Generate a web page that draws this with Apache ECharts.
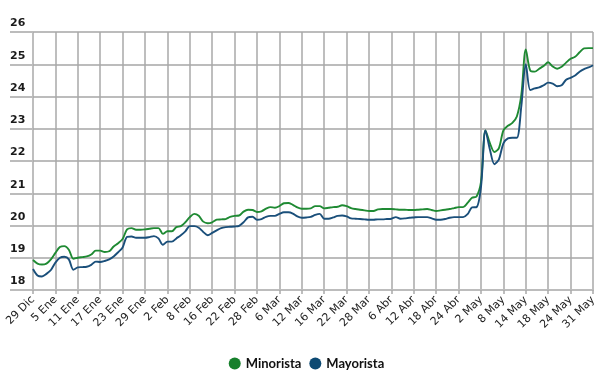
<!DOCTYPE html>
<html>
<head>
<meta charset="utf-8">
<script src="https://cdn.jsdelivr.net/npm/echarts@6/dist/echarts.min.js"></script>
<style>html,body{margin:0;padding:0;background:#fff;}#chart{width:613px;height:383px;}</style>
</head>
<body>
<div id="chart"></div>
<script>
var tickLabels = ["29 Dic","5 Ene","11 Ene","17 Ene","23 Ene","29 Ene","2 Feb","8 Feb","16 Feb","22 Feb","28 Feb","6 Mar","12 Mar","16 Mar","22 Mar","28 Mar","6 Abr","12 Abr","18 Abr","24 Abr","2 May","8 May","14 May","18 May","24 May","31 May"];
var pointsPerLabel = 5;
var minorista = [18.93,18.82,18.79,18.82,18.95,19.15,19.33,19.36,19.25,18.97,19.0,19.02,19.04,19.1,19.22,19.22,19.18,19.2,19.35,19.45,19.58,19.88,19.92,19.87,19.87,19.88,19.9,19.92,19.92,19.74,19.82,19.82,19.95,19.98,20.1,20.26,20.36,20.3,20.12,20.07,20.1,20.18,20.19,20.2,20.27,20.3,20.31,20.43,20.49,20.48,20.42,20.44,20.52,20.57,20.55,20.6,20.69,20.7,20.64,20.56,20.52,20.52,20.53,20.6,20.6,20.53,20.55,20.57,20.58,20.63,20.6,20.54,20.51,20.49,20.47,20.45,20.45,20.5,20.51,20.51,20.51,20.5,20.49,20.49,20.48,20.48,20.49,20.5,20.51,20.48,20.45,20.47,20.49,20.51,20.54,20.57,20.57,20.7,20.86,20.9,21.35,22.95,22.55,22.28,22.4,22.95,23.09,23.18,23.38,24.05,25.46,24.8,24.77,24.86,24.95,25.06,24.93,24.86,24.92,25.05,25.17,25.23,25.37,25.49,25.5,25.5];
var mayorista = [18.65,18.45,18.42,18.5,18.62,18.85,19.0,19.03,18.95,18.63,18.7,18.71,18.72,18.78,18.88,18.87,18.9,18.95,19.04,19.17,19.32,19.65,19.66,19.62,19.62,19.62,19.64,19.67,19.6,19.4,19.5,19.5,19.6,19.7,19.82,19.98,19.98,19.93,19.8,19.7,19.77,19.85,19.92,19.95,19.96,19.97,19.99,20.1,20.25,20.27,20.18,20.2,20.27,20.3,20.3,20.36,20.41,20.41,20.37,20.28,20.24,20.25,20.27,20.33,20.36,20.21,20.21,20.25,20.3,20.31,20.28,20.22,20.21,20.2,20.19,20.18,20.18,20.19,20.19,20.2,20.21,20.26,20.21,20.22,20.24,20.25,20.26,20.26,20.26,20.22,20.18,20.18,20.2,20.24,20.26,20.26,20.26,20.35,20.56,20.57,21.2,22.95,22.35,21.9,22.05,22.55,22.7,22.72,22.72,23.7,25.0,24.2,24.25,24.28,24.35,24.43,24.4,24.32,24.35,24.52,24.58,24.65,24.77,24.85,24.9,24.97];

function pairs(arr){ return arr.map(function(v,i){ return [i, v]; }); }

var chart = echarts.init(document.getElementById('chart'), null, {renderer:'canvas'});
var hColor = '#bcbcbc';
var vColor = '#a9a9a9';
chart.setOption({
  animation: false,
  backgroundColor: '#ffffff',
  grid: {left: 33, right: 20, top: 32, bottom: 93, containLabel: false},
  xAxis: {
    type: 'value', min: 0, max: (tickLabels.length - 1) * pointsPerLabel, interval: pointsPerLabel,
    axisLine: {show: true, lineStyle: {color: hColor, width: 2}},
    axisTick: {show: true, length: 4, lineStyle: {color: vColor, width: 1.5}},
    splitLine: {show: true, lineStyle: {color: vColor, width: 1.5}},
    axisLabel: {
      rotate: 45, margin: 8, color: '#222', fontFamily: 'DejaVu Sans', fontSize: 11,
      formatter: function(v){ return tickLabels[Math.round(v / pointsPerLabel)] || ''; },
      showMinLabel: true, showMaxLabel: true
    }
  },
  yAxis: {
    type: 'value', min: 18, max: 26, interval: 1,
    axisLine: {show: false},
    axisTick: {show: true, length: 23, lineStyle: {color: hColor, width: 2}},
    splitLine: {show: true, lineStyle: {color: hColor, width: 2}},
    axisLabel: {
      align: 'left', margin: 23, verticalAlign: 'bottom', padding: [0,0,3,0],
      color: '#1a1a1a', fontFamily: 'DejaVu Sans', fontWeight: 'bold', fontSize: 11
    }
  },
  legend: {
    bottom: 8, left: 'center', icon: 'circle', itemWidth: 12, itemHeight: 12, itemGap: 8,
    textStyle: {fontFamily: 'Lato', fontWeight: 'bold', fontSize: 13, color: '#111'},
    data: ['Minorista', 'Mayorista']
  },
  series: [
    {name: 'Minorista', type: 'line', data: pairs(minorista), showSymbol: false, smooth: 0.3,
     color: '#17802c', lineStyle: {width: 1.9, color: '#1f8a33'}},
    {name: 'Mayorista', type: 'line', data: pairs(mayorista), showSymbol: false, smooth: 0.3,
     color: '#0d4a73', lineStyle: {width: 1.9, color: '#1a4f7a'}}
  ]
});
</script>
</body>
</html>
